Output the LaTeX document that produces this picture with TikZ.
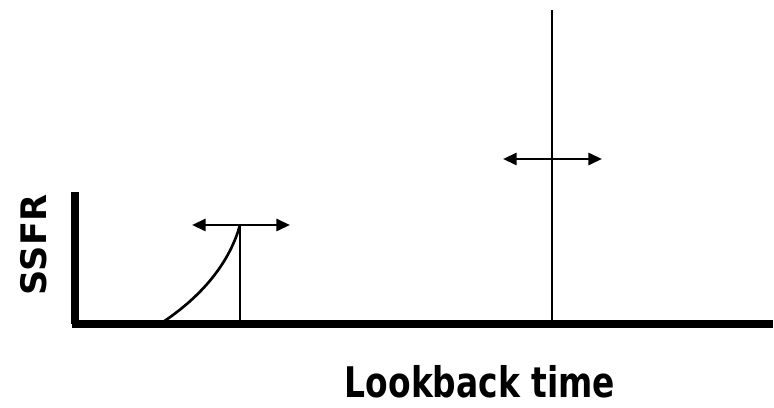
\documentclass[tikz,border=0pt]{standalone}
\usepackage{fontspec}
\setmainfont{DejaVu Sans}
\usetikzlibrary{arrows.meta}
\tikzset{
  axisline/.style ={line width=5.5pt},
  epochline/.style={line width=1.9pt},
  shiftarrow/.style={{Triangle[length=3.4mm,width=3mm]}-{Triangle[length=3.4mm,width=3mm]},line width=1.9pt},
  axislabel/.style={font=\bfseries,inner sep=0pt},
}
\begin{document}
\begin{tikzpicture}
\useasboundingbox (0,0) rectangle (19.35,10.2);
% ---- axes ----
\coordinate (orig) at (1.875,2.1);
\coordinate (ytop) at (1.875,5.4);
\coordinate (xend) at (19.33,2.1);
\draw[axisline] (ytop) -- (orig);
\draw[axisline] (1.8,2.1) -- (xend);
\node[axislabel,font=\bfseries\fontsize{25}{28}\selectfont,rotate=90] (ylab) at (0.84,4.075) {SSFR};
\node[axislabel,font=\bfseries\fontsize{30}{33}\selectfont,xscale=0.78] (xlab) at (12.0,0.66) {Lookback time};
% ---- early burst ----
\coordinate (rise) at (4.075,2.15);
\coordinate (peak) at (6.0,4.575);
\coordinate (peakfoot) at (6.0,2.15);
\draw[epochline] (rise) .. controls (4.9,2.7) and (5.7,3.5) .. (peak);
\draw[epochline] (peak) -- (peakfoot);
\coordinate (la) at (4.8,4.575);
\coordinate (lb) at (7.25,4.575);
\draw[shiftarrow] (la) -- (lb);
% ---- late burst ----
\coordinate (ltop) at (13.8,9.95);
\coordinate (lfoot) at (13.8,2.15);
\draw[epochline] (ltop) -- (lfoot);
\coordinate (ra) at (12.575,6.225);
\coordinate (rb) at (15.05,6.225);
\draw[shiftarrow] (ra) -- (rb);
\end{tikzpicture}
\end{document}
